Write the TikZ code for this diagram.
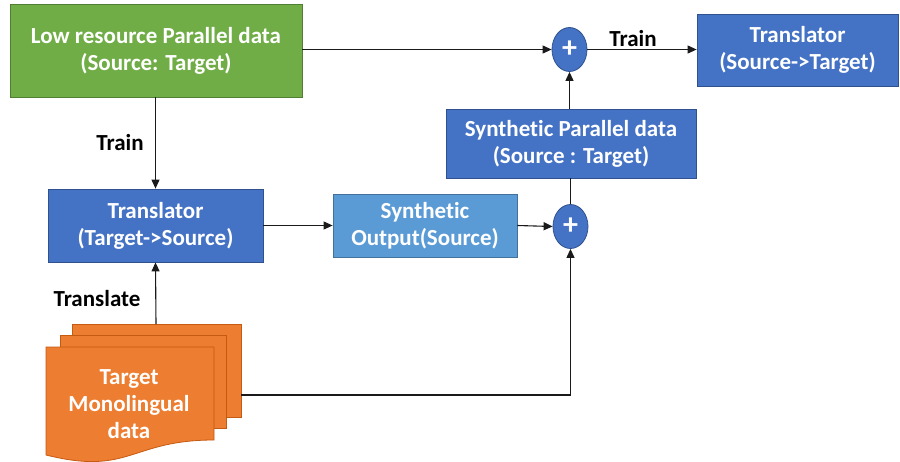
\documentclass[tikz,border=0pt]{standalone}
\usepackage{fontspec}
\setmainfont{Carlito}[Ligatures={NoCommon}]
\usetikzlibrary{arrows.meta,shapes.geometric}
\definecolor{cgreen}{HTML}{70AD47}
\definecolor{cgreenb}{HTML}{507E32}
\definecolor{cblue}{HTML}{4472C4}
\definecolor{cblueb}{HTML}{2F528F}
\definecolor{clblue}{HTML}{5B9BD5}
\definecolor{clblueb}{HTML}{41719C}
\definecolor{corange}{HTML}{ED7D31}
\definecolor{corangeb}{HTML}{C55A11}
\definecolor{cline}{HTML}{1A1A1A}
\begin{document}
\begin{tikzpicture}[x=1pt,y=-1pt,
  font=\bfseries\fontsize{23}{27}\selectfont,
  boxstyle/.style={rectangle,draw,line width=0.8pt,text=white,align=center,inner sep=0pt},
  plusstyle/.style={ellipse,draw=cblueb,fill=cblue,line width=0.8pt,text=white,minimum width=35pt,minimum height=44pt,inner sep=0pt,font=\bfseries\fontsize{30}{30}\selectfont},
  arr/.style={draw=cline,line width=1.1pt,-{Triangle[length=9pt,width=8pt]}},
  ln/.style={draw=cline,line width=1.1pt},
  lbl/.style={text=black,inner sep=0pt},
  sheet/.style={draw=corangeb,fill=corange,line width=0.8pt}]
\useasboundingbox (0,0) rectangle (900,461);
\node[boxstyle,fill=cgreen,draw=cgreenb,minimum width=292pt,minimum height=93pt] (green) at (156,50.5) {Low resource Parallel data\\(Source: Target)};
\node[boxstyle,fill=cblue,draw=cblueb,minimum width=201pt,minimum height=72pt] (trST) at (797.5,50) {Translator\\(Source->Target)};
\node[boxstyle,fill=cblue,draw=cblueb,minimum width=250pt,minimum height=69pt] (synPar) at (571,143.5) {Synthetic Parallel data\\(Source : Target)};
\node[boxstyle,fill=cblue,draw=cblueb,minimum width=215pt,minimum height=73pt] (trTS) at (155.5,225.5) {Translator\\(Target->Source)};
\node[boxstyle,fill=clblue,draw=clblueb,minimum width=184pt,minimum height=63pt] (synOut) at (425,225.5) {Synthetic\\Output(Source)};
\node[plusstyle] (plus1) at (569.5,49.5) {+};
\node[plusstyle] (plus2) at (570.5,226.5) {+};
% multi-document
\draw[sheet] (72,324) rectangle (241,417);
\draw[sheet] (60,335) rectangle (226,428);
\draw[sheet] (46,347) -- (214,347) -- (214,440) .. controls (130,440) and (130,476) .. (46,455) -- cycle;
\node[text=white,align=center,inner sep=0pt] (mono) at (129,404) {Target\\Monolingual\\data};
\coordinate (docTop) at (156,324);
\coordinate (docRight) at (241,395);
% connectors
\draw[arr] (green.south -| trTS.north) -- (trTS.north);
\node[lbl] (lTrain1) at (120,143) {Train};
\draw[arr] (green.east |- plus1.west) -- (plus1.west);
\draw[arr] (plus1.east) -- (trST.west |- plus1.east);
\node[lbl] (lTrain2) at (633,39) {Train};
\draw[arr] (plus1.south |- synPar.north) -- (plus1.south);
\draw[ln] (plus2.north) -- (plus2.north |- synPar.south);
\draw[arr] (trTS.east) -- (synOut.west);
\draw[arr] (synOut.east) -- (plus2.west);
\draw[arr] (docTop) -- (trTS.south);
\node[lbl] (lTranslate) at (97,299) {Translate};
\draw[arr] (docRight) -| (plus2.south);
\end{tikzpicture}
\end{document}
